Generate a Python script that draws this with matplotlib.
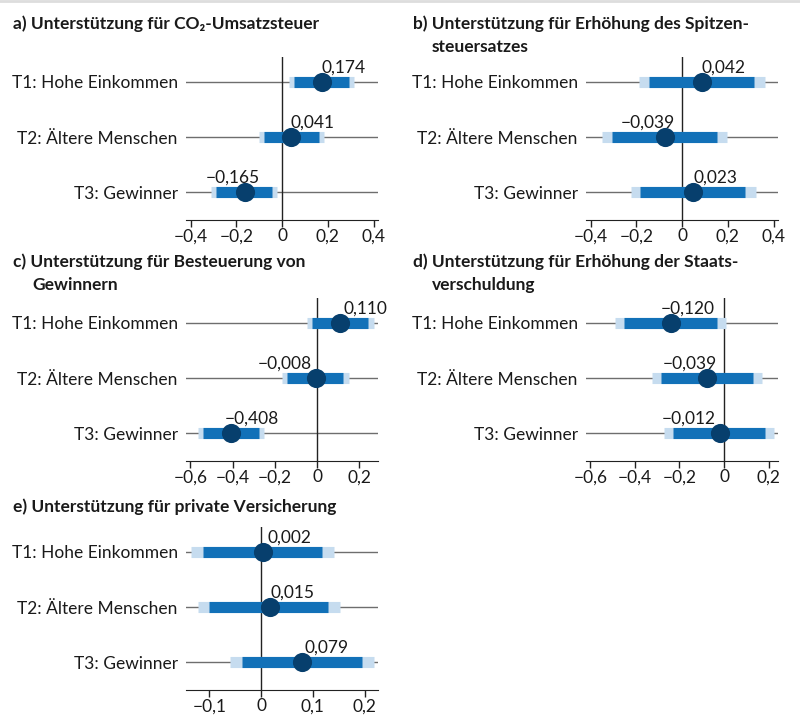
import matplotlib
matplotlib.use("Agg")
import matplotlib.pyplot as plt
from matplotlib.lines import Line2D

plt.rcParams['font.family'] = ['Lato', 'DejaVu Sans']

groups = ["T1: Hohe Einkommen", "T2: Ältere Menschen", "T3: Gewinner"]

titles = [
    ["a) Unterstützung für CO\u2082-Umsatzsteuer"],
    ["b) Unterstützung für Erhöhung des Spitzen-", "steuersatzes"],
    ["c) Unterstützung für Besteuerung von", "Gewinnern"],
    ["d) Unterstützung für Erhöhung der Staats-", "verschuldung"],
    ["e) Unterstützung für private Versicherung"],
]

# printed coefficients
coef_a = [0.174, 0.041, -0.165]
coef_b = [0.042, -0.039, 0.023]
coef_c = [0.110, -0.008, -0.408]
coef_d = [-0.120, -0.039, -0.012]
coef_e = [0.002, 0.015, 0.079]

# dot positions as drawn
est_a = [0.173, 0.041, -0.162]
est_b = [0.087, -0.076, 0.048]
est_c = [0.109, -0.006, -0.408]
est_d = [-0.239, -0.076, -0.019]
est_e = [0.003, 0.017, 0.080]

# inner interval (dark)
lo_a = [0.052, -0.079, -0.287]
hi_a = [0.293, 0.162, -0.046]
lo_b = [-0.144, -0.307, -0.182]
hi_b = [0.314, 0.154, 0.276]
lo_c = [-0.022, -0.140, -0.539]
hi_c = [0.241, 0.123, -0.277]
lo_d = [-0.449, -0.284, -0.229]
hi_d = [-0.031, 0.132, 0.185]
lo_e = [-0.113, -0.100, -0.037]
hi_e = [0.118, 0.130, 0.195]

# outer interval (light)
lo2_a = [0.031, -0.102, -0.310]
hi2_a = [0.315, 0.184, -0.023]
lo2_b = [-0.188, -0.352, -0.225]
hi2_b = [0.361, 0.198, 0.321]
lo2_c = [-0.047, -0.165, -0.564]
hi2_c = [0.268, 0.150, -0.252]
lo2_d = [-0.487, -0.323, -0.269]
hi2_d = [0.010, 0.172, 0.224]
lo2_e = [-0.136, -0.121, -0.060]
hi2_e = [0.141, 0.152, 0.218]

ticks_ab = [-0.4, -0.2, 0, 0.2, 0.4]
ticks_cd = [-0.6, -0.4, -0.2, 0, 0.2]
ticks_e = [-0.1, 0, 0.1, 0.2]

panels = [
    (coef_a, est_a, lo_a, hi_a, lo2_a, hi2_a, ticks_ab),
    (coef_b, est_b, lo_b, hi_b, lo2_b, hi2_b, ticks_ab),
    (coef_c, est_c, lo_c, hi_c, lo2_c, hi2_c, ticks_cd),
    (coef_d, est_d, lo_d, hi_d, lo2_d, hi2_d, ticks_cd),
    (coef_e, est_e, lo_e, hi_e, lo2_e, hi2_e, ticks_e),
]

# layout (pixels of an 800x717 canvas)
W, H = 800, 717
xlims = [(-0.42, 0.419), (-0.42, 0.419), (-0.62, 0.288), (-0.619, 0.242), (-0.145, 0.226)]
ax_left = [186, 586, 186, 586, 186]
ax_top = [57, 57, 298, 298, 527]
ax_w, ax_h = 192, 163
title_x = [13, 413, 13, 413, 13]
title_y = [29, 29, 267, 267, 512]
label_dx = [[22, 21, -12], [21, -17, 22], [25, -31, 21], [17, -17, -31], [27, 23, 24]]

dark = "#1271b8"
light = "#c6dcef"
dot = "#073f6d"
grey = "#6e6e6e"
txt = "#1a1a1a"
fs = 12.5


def fmt(v, nd):
    if abs(v) < 1e-9:
        return "0"
    s = f"{abs(v):.{nd}f}".replace(".", ",")
    return ("\u2212" if v < 0 else "") + s


fig = plt.figure(figsize=(W / 100, H / 100), dpi=100)
fig.add_artist(Line2D([0, 1], [1 - 1 / H, 1 - 1 / H], color="#dddddd", lw=2))

for i, (coef, est, lo, hi, lo2, hi2, ticks) in enumerate(panels):
    ax = fig.add_axes([ax_left[i] / W, 1 - (ax_top[i] + ax_h) / H, ax_w / W, ax_h / H])
    ys = range(len(groups))
    for y in ys:
        ax.axhline(y, color=grey, lw=1, zorder=1)
    ax.axvline(0, color="#222222", lw=1, zorder=1.5)
    for y in ys:
        ax.plot([lo2[y], hi2[y]], [y, y], color=light, lw=8, solid_capstyle="butt", zorder=2)
        ax.plot([lo[y], hi[y]], [y, y], color=dark, lw=8, solid_capstyle="butt", zorder=3)
        ax.plot(est[y], y, "o", color=dot, ms=13.8, mec="none", zorder=4)
        ax.annotate(fmt(coef[y], 3), (est[y], y), xytext=(label_dx[i][y] * 0.72, 7),
                    textcoords="offset points", ha="center", va="baseline",
                    fontsize=fs, color=txt, zorder=5)
    ax.set_xlim(*xlims[i])
    ax.set_ylim(2.5, -0.45)
    ax.set_yticks(list(ys))
    ax.set_yticklabels(groups, fontsize=fs, color=txt)
    ax.tick_params(axis="y", length=0, pad=6)
    ax.set_xticks(ticks)
    ax.set_xticklabels([fmt(t, 1) for t in ticks], fontsize=fs, color=txt)
    ax.tick_params(axis="x", length=5, width=1, color="#222222", pad=1)
    for s in ["top", "right", "left"]:
        ax.spines[s].set_visible(False)
    ax.spines["bottom"].set_color("#222222")
    ax.patch.set_alpha(0)

    for k, line in enumerate(titles[i]):
        x = title_x[i] + (19 if k > 0 else 0)
        y = title_y[i] + 23 * k
        fig.text(x / W, 1 - y / H, line, fontsize=fs, fontweight="bold",
                 color=txt, ha="left", va="baseline")

fig.savefig("out.png", dpi=100)
